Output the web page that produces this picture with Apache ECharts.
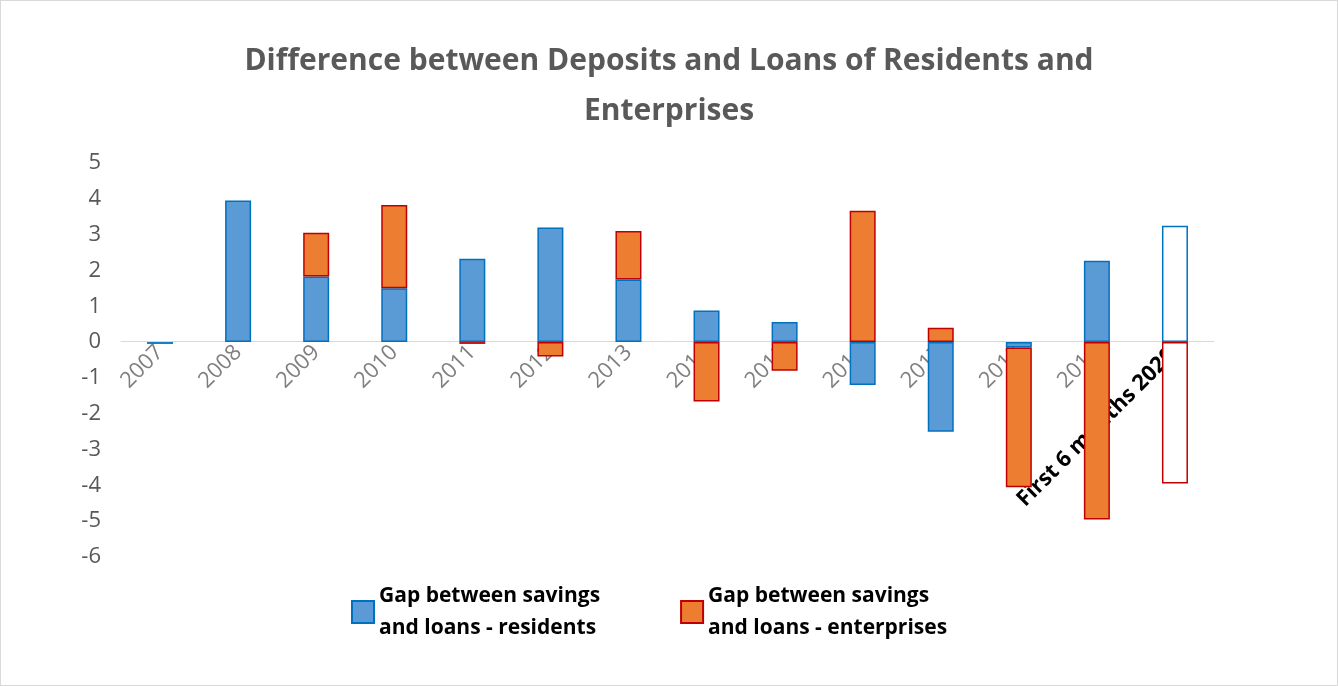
<!DOCTYPE html>
<html>
<head>
<meta charset="utf-8">
<script src="https://cdn.jsdelivr.net/npm/echarts@6/dist/echarts.min.js"></script>
<style>
  html, body { margin: 0; padding: 0; background: #fff; }
  #chart { width: 1336px; height: 684px; border: 1px solid #d9d9d9; }
</style>
</head>
<body>
<div id="chart"></div>
<script>
const categories = ["2007", "2008", "2009", "2010", "2011", "2012", "2013", "2014", "2015", "2016", "2017", "2018", "2019", "First 6 months 2020"];
const residents = [-0.05, 3.95, 1.83, 1.5, 2.33, 3.2, 1.75, 0.88, 0.56, -1.2, -2.5, -0.15, 2.27, 3.25];
const enterprises = [null, null, 1.22, 2.33, -0.05, -0.4, 1.35, -1.66, -0.8, 3.67, 0.4, -3.9, -4.95, -3.95];
const yTicks = { min: -6, max: 5, interval: 1 };

const chart = echarts.init(document.getElementById("chart"));

const lastIdx = categories.length - 1;
// zero sits 6 units above the bottom of the grid, 36px per unit
const zeroOffset = -216;

chart.setOption({
  animation: false,
  title: {
    text: "Difference between Deposits and Loans of Residents and\nEnterprises",
    left: "center",
    top: 30,
    textStyle: { fontFamily: "Open Sans", fontSize: 30, fontWeight: "bold", color: "#595959", lineHeight: 50 }
  },
  grid: { left: 120, right: 123, top: 162, bottom: 128, containLabel: false, outerBoundsMode: "none" },
  legend: {
    bottom: 36,
    left: 345,
    itemGap: 80,
    itemWidth: 22,
    itemHeight: 22,
    textStyle: { fontFamily: "Open Sans", fontSize: 21, fontWeight: "bold", color: "#000", lineHeight: 32 },
    data: [
      { name: "Gap between savings\nand loans - residents", icon: "rect" },
      { name: "Gap between savings\nand loans - enterprises", icon: "rect" }
    ]
  },
  xAxis: {
    type: "category",
    data: categories,
    offset: zeroOffset,
    axisLine: { onZero: false, lineStyle: { color: "#d9d9d9" } },
    axisTick: { show: false },
    axisLabel: {
      rotate: 45,
      interval: 0,
      margin: 8,
      fontFamily: "Open Sans",
      fontSize: 22,
      color: "#7f7f7f",
      formatter: (v) => v.startsWith("First") ? "{hl|" + v + "}" : v,
      rich: {
        hl: { fontFamily: "Open Sans", fontSize: 22, fontWeight: "bold", color: "#000", backgroundColor: "#fff", padding: [2, 4] }
      }
    }
  },
  yAxis: {
    type: "value",
    min: yTicks.min,
    max: yTicks.max,
    interval: yTicks.interval,
    splitLine: { show: false },
    axisLine: { show: false },
    axisLabel: { fontFamily: "Open Sans", fontSize: 22, color: "#595959", margin: 20 }
  },
  series: [
    {
      name: "Gap between savings\nand loans - residents",
      type: "bar",
      stack: "gap",
      barWidth: 26,
      itemStyle: { color: "#5b9bd5", borderColor: "#0070c0", borderWidth: 1.5 },
      data: residents.map((v, i) => i === lastIdx
        ? { value: v, itemStyle: { color: "#fff", borderColor: "#0070c0", borderWidth: 1.5 } }
        : v)
    },
    {
      name: "Gap between savings\nand loans - enterprises",
      type: "bar",
      stack: "gap",
      barWidth: 26,
      itemStyle: { color: "#ed7d31", borderColor: "#c00000", borderWidth: 1.5 },
      data: enterprises.map((v, i) => i === lastIdx
        ? { value: v, itemStyle: { color: "#fff", borderColor: "#c00000", borderWidth: 1.5 } }
        : v)
    }
  ]
});

window.addEventListener("resize", () => chart.resize());
</script>
</body>
</html>
